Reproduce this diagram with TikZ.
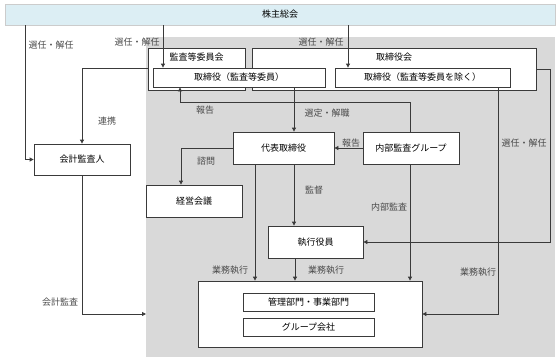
\documentclass[tikz,border=0pt]{standalone}
\usepackage{fontspec}
\setmainfont{Noto Sans CJK JP}
\usetikzlibrary{arrows.meta,shadows}
\definecolor{lineC}{HTML}{3A3A3A}
\definecolor{lblC}{HTML}{4A4A4A}
\definecolor{bgC}{HTML}{D9D9D9}
\definecolor{topC}{HTML}{DCEEF4}
\tikzset{
  box/.style={draw=lineC, line width=0.8pt, fill=white, inner sep=0pt, font=\fontsize{9}{10}\selectfont,
    drop shadow={shadow xshift=0.9pt, shadow yshift=-0.9pt, fill=black!45}},
  lbl/.style={text=lblC, inner sep=0pt, font=\fontsize{9}{10}\selectfont},
  arr/.style={draw=lineC, line width=0.8pt, -{Triangle[length=4pt,width=4pt]}},
}
\begin{document}
\begin{tikzpicture}[x=1pt,y=-1pt]
\useasboundingbox (0,0) rectangle (560,362);
% background areas
\fill[bgC] (146,37) rectangle (555,357);
\node[draw=black!20, line width=0.8pt, fill=topC, minimum width=550pt, minimum height=21pt, inner sep=0pt,
  font=\fontsize{9}{10}\selectfont] (sh) at (280,14.5) {株主総会};
% boards
\node[box, minimum width=284pt, minimum height=42pt, label={[lbl, text=black, anchor=north, yshift=-5pt]north:取締役会}] (kai) at (394,69) {};
\node[box, minimum width=97pt, minimum height=42pt, label={[lbl, text=black, anchor=north, yshift=-5pt]north:監査等委員会}] (kansa) at (196.5,69) {};
\node[box, minimum width=172pt, minimum height=19pt] (dirA) at (239,77.5) {取締役（監査等委員）};
\node[box, minimum width=175pt, minimum height=19pt] (dirB) at (422.5,77.5) {取締役（監査等委員を除く）};
% other boxes
\node[box, minimum width=96pt, minimum height=31pt] (kaikei) at (82,159.5) {会計監査人};
\node[box, minimum width=101pt, minimum height=32pt] (daihyo) at (283.5,148) {代表取締役};
\node[box, minimum width=96pt, minimum height=32pt] (naibu) at (411,148) {内部監査グループ};
\node[box, minimum width=96pt, minimum height=32pt] (keiei) at (194,201) {経営会議};
\node[box, minimum width=95pt, minimum height=32pt] (exec) at (315.5,242) {執行役員};
\node[box, minimum width=224pt, minimum height=66pt] (big) at (310,314) {};
\node[box, minimum width=131pt, minimum height=18pt] (kanri) at (308.5,302) {管理部門・事業部門};
\node[box, minimum width=131pt, minimum height=18pt] (group) at (308.5,327) {グループ会社};
% coordinates
\coordinate (c1) at (163,0);
\coordinate (c2) at (348,0);
\coordinate (c3) at (25,0);
\coordinate (c5) at (410,0);
\coordinate (c5b) at (180,102);
\coordinate (c6) at (294,0);
\coordinate (c8) at (181,0);
\coordinate (c10) at (255,0);
\coordinate (c11) at (295,0);
\coordinate (c14) at (498,0);
\coordinate (ga) at (146,314);
% connectors
\draw[arr] (sh.south -| c1) -- (dirA.north -| c1);
\draw[arr] (sh.south -| c2) -- (dirB.north -| c2);
\draw[arr] (sh.south -| c3) |- (kaikei.west);
\draw[arr] (kansa.west |- 0,68) -| (kaikei.north);
\draw[arr] (naibu.north -| c5) |- (c5b) -- (dirA.south -| c5b);
\draw[arr] (dirA.south -| c6) -- (daihyo.north -| c6);
\draw[arr] (naibu.west) -- (daihyo.east);
\draw[arr] (daihyo.west) -| (keiei.north -| c8);
\draw[arr] (daihyo.south -| c6) -- (exec.north -| c6);
\draw[arr] (daihyo.south -| c10) -- (big.north -| c10);
\draw[arr] (exec.south -| c11) -- (big.north -| c11);
\draw[arr] (naibu.south -| c5) -- (big.north -| c5);
\draw[arr] (kai.east) -- ++(14,0) |- (exec.east);
\draw[arr] (dirB.south -| c14) |- (big.east);
\draw[arr] (kaikei.south) |- (ga);
% labels
\node[lbl] (l1) at (137,42) {選任・解任};
\node[lbl] (l2) at (321,42) {選任・解任};
\node[lbl] (l3) at (51,45) {選任・解任};
\node[lbl] (l4) at (107,121) {連携};
\node[lbl] (l5) at (205,110) {報告};
\node[lbl] (l6) at (327,113) {選定・解職};
\node[lbl] (l7) at (351,143) {報告};
\node[lbl] (l8) at (206,161) {諮問};
\node[lbl] (l9) at (314,190) {監督};
\node[lbl] (l10) at (230,270) {業務執行};
\node[lbl] (l11) at (326,270) {業務執行};
\node[lbl] (l12) at (389,207) {内部監査};
\node[lbl] (l13) at (524,143) {選任・解任};
\node[lbl] (l14) at (478,272) {業務執行};
\node[lbl] (l15) at (60,302) {会計監査};
\end{tikzpicture}
\end{document}
